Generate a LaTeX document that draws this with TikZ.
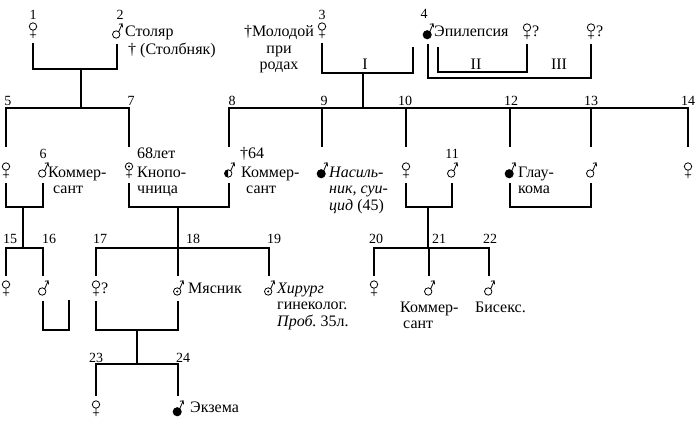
\documentclass[tikz,border=0pt]{standalone}
\usepackage{fontspec}
\setmainfont{Liberation Serif}
\usetikzlibrary{calc}
\tikzstyle{link} = [draw, line width=1.5pt]
\tikzstyle{sym} = [line width=0.8pt]
\tikzstyle{num} = [font=\fontsize{14}{14}\selectfont, anchor=base, inner sep=0pt]
\tikzstyle{txt} = [font=\fontsize{16}{16.5}\selectfont, anchor=base west, inner sep=0pt, align=left]
\tikzset{gap/.store in=\gap, gap=12}
\newcommand{\femglyph}{%
  \draw[sym] (0,-3.5) circle (3.7) (0,0.2) -- (0,8.2) (-3.2,4.7) -- (3.2,4.7);
  \coordinate (-t) at (0,-\gap); \coordinate (-b) at (0,13);}
\newcommand{\malglyph}{%
  \draw[sym] (-0.8,3.5) circle (3.7) (1.7,0.8) -- (5.2,-7.2) (1.9,-6.8) -- (5.2,-7.2) -- (5.5,-3.7);
  \coordinate (-t) at (0,-\gap); \coordinate (-b) at (0,13);}
\tikzset{
  fem/.pic={\femglyph},
  femdot/.pic={\fill (0,-3.5) circle (1.1); \femglyph},
  mal/.pic={\malglyph},
  maldot/.pic={\fill (-0.8,3.5) circle (1.1); \malglyph},
  malhalf/.pic={\fill (-0.8,7.2) arc (90:270:3.7) -- cycle; \malglyph},
  malaff/.pic={\fill (-0.8,3.8) circle (4.5); \malglyph},
}
\begin{document}
\begin{tikzpicture}[x=1pt, y=-1pt]
  \useasboundingbox (0,0) rectangle (700,422);

  % generation I
  \foreach \n/\x in {1/33, 3/322}
    \pic (s\n) at (\x,30) {fem};
  \pic (s2) at (117,31) {mal};
  \pic (s4) at (428,31) {malaff};
  \foreach \n/\x in {2/527, 3/591}
    \pic (w\n) at (\x,31) {fem};

  % generation II
  \foreach \n/\x in {5/6, 10/406, 14/688}
    \pic[gap=23] (s\n) at (\x,170) {fem};
  \foreach \n/\x in {6/43, 11/452, 13/591}
    \pic[gap=23] (s\n) at (\x,170) {mal};
  \foreach \n/\x in {9/322, 12/510}
    \pic[gap=23] (s\n) at (\x,170) {malaff};
  \pic[gap=23] (s7) at (129,170) {femdot};
  \pic[gap=23] (s8) at (229,170) {malhalf};

  % generation III
  \foreach \n/\x in {15/6, 17/96, 20/374}
    \pic (s\n) at (\x,288) {fem};
  \foreach \n/\x in {16/43, 21/429, 22/489}
    \pic (s\n) at (\x,288) {mal};
  \foreach \n/\x in {18/178, 19/269}
    \pic (s\n) at (\x,288) {maldot};

  % generation IV
  \pic (s23) at (96,408) {fem};
  \pic (s24) at (178,408) {malaff};

  \foreach \n/\x/\y in {1/33/20, 2/120/20, 3/322/20, 4/424/19,
      5/8/106, 7/131/106, 8/232/106, 9/324/106, 10/405/106, 12/511/106, 13/591/106, 14/688/106,
      6/43/158, 11/452/158,
      15/10/243, 16/49/243, 17/100/243, 18/193/243, 19/274/243, 20/376/243, 21/439/243, 22/490/243,
      23/96/362, 24/183/362}
    \node[num] (n\n) at (\x,\y) {\n};

  % texts (a multi-line text sits on the baseline of its last line)
  \node[txt] (t2a) at (125,37) {Столяр};
  \node[txt] (t2b) at (128,55) {† (Столбняк)};
  \node[txt, anchor=base, align=center] (t3) at (279,70) {†Молодой\\при\\родах};
  \node[txt] (t4) at (434,37) {Эпилепсия};
  \node[txt] (q2) at (532,37) {?};
  \node[txt] (q3) at (596,37) {?};
  \foreach \r/\x in {I/365, II/476, III/559}
    \node[txt, anchor=base] (r\r) at (\x,70) {\r};

  \node[txt] (t6) at (48,193.5) {Коммер-\\\hspace*{5pt}сант};
  \node[txt] (t7a) at (137,158) {68лет};
  \node[txt] (t7b) at (137,193.5) {Кнопо-\\чница};
  \node[txt] (t8a) at (240,158) {†64};
  \node[txt] (t8b) at (241,193.5) {Коммер-\\\hspace*{5pt}сант};
  \node[txt] (t9) at (329,210) {\textit{Насиль-}\\\textit{ник, суи-}\\\textit{цид}~(45)};
  \node[txt] (t12) at (518,193.5) {Глау-\\кома};

  \node[txt] (q17) at (101,293) {?};
  \node[txt] (t18) at (188,293) {Мясник};
  \node[txt] (t19) at (277,326) {\textit{Хирург}\\гинеколог.\\\textit{Проб.}~35л.};
  \node[txt] (t21) at (400,328.5) {Коммер-\\\hspace*{3pt}сант};
  \node[txt] (t22) at (475,312) {Бисекс.};
  \node[txt] (t24) at (190,412) {Экзема};

  % marriages and sibships
  \coordinate (m12) at (81,69);   \coordinate (g1) at (81,108);
  \coordinate (m34) at (363,73);  \coordinate (g2) at (363,108);
  \coordinate (e4) at (413,47);   \coordinate (e4b) at (438,47);
  \coordinate (m4w2) at (476,72); \coordinate (m4w3) at (510,78);
  \coordinate (m56) at (23,207);  \coordinate (g3) at (23,248);
  \coordinate (m78) at (178,207); \coordinate (g4) at (178,248);
  \coordinate (m1011) at (428,207); \coordinate (g5) at (428,248);
  \coordinate (m1213) at (550,207);
  \coordinate (m16) at (56,330);  \coordinate (e16) at (69,300);
  \coordinate (m1718) at (137,330); \coordinate (g6) at (137,364);

  \draw[link] (s1-b) |- (m12) -| (s2-b);
  \draw[link] (m12) -- (g1);
  \draw[link] (s5-t) |- (g1) -| (s7-t);

  \draw[link] (s3-b) |- (m34) -| (e4);
  \draw[link] (m34) -- (g2);
  \draw[link] (s8-t) |- (g2) -| (s14-t);
  \foreach \c in {9,10,12,13}
    \draw[link] (g2 -| s\c-t) -- (s\c-t);
  \draw[link] (e4b) |- (m4w2) -| (w2-b);
  \draw[link] (s4-b) |- (m4w3) -| (w3-b);

  \draw[link] (s5-b) |- (m56) -| (s6-b);
  \draw[link] (m56) -- (g3);
  \draw[link] (s15-t) |- (g3) -| (s16-t);
  \draw[link] (s16-b) |- (m16) -| (e16);

  \draw[link] (s7-b) |- (m78) -| (s8-b);
  \draw[link] (m78) -- (g4);
  \draw[link] (s17-t) |- (g4) -| (s19-t);
  \draw[link] (g4 -| s18-t) -- (s18-t);

  \draw[link] (s10-b) |- (m1011) -| (s11-b);
  \draw[link] (m1011) -- (g5);
  \draw[link] (s20-t) |- (g5) -| (s22-t);
  \draw[link] (g5 -| s21-t) -- (s21-t);

  \draw[link] (s12-b) |- (m1213) -| (s13-b);

  \draw[link] (s17-b) |- (m1718) -| (s18-b);
  \draw[link] (m1718) -- (g6);
  \draw[link] (s23-t) |- (g6) -| (s24-t);
\end{tikzpicture}
\end{document}
